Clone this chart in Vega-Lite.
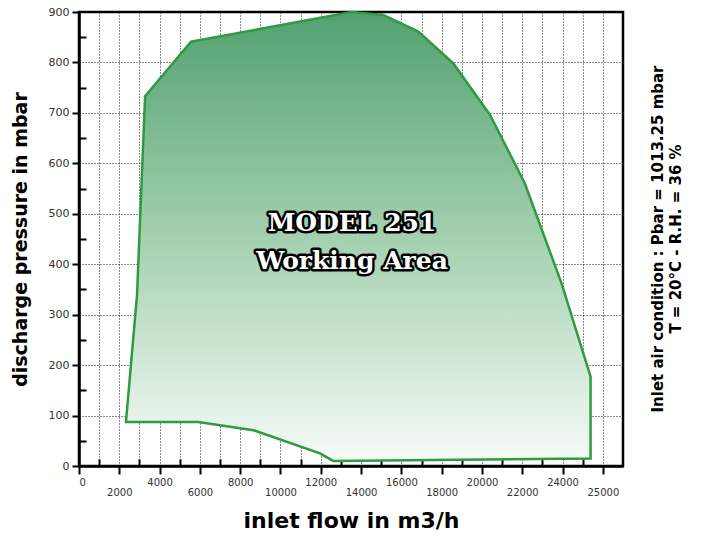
{
  "$schema": "https://vega.github.io/schema/vega-lite/v6.json",
  "width": 544,
  "height": 454,
  "autosize": {"type": "none"},
  "padding": {"left": 79, "top": 12, "right": 84, "bottom": 71},
  "background": "white",
  "config": {
    "view": {"stroke": "black", "strokeWidth": 2.5},
    "axis": {"labelFont": "DejaVu Sans", "labelColor": "#333", "titleFont": "DejaVu Sans", "titleColor": "black"}
  },
  "title": {
    "text": ["Inlet air condition : Pbar = 1013.25 mbar", "T = 20°C - R.H. = 36 %"],
    "orient": "right",
    "angle": 270,
    "anchor": "middle",
    "offset": -5,
    "font": "DejaVu Sans",
    "fontSize": 15,
    "fontWeight": "bold",
    "lineHeight": 18,
    "color": "black"
  },
  "datasets": {
    "area": [
      {"o": 1, "flow": 2330, "p": 87},
      {"o": 2, "flow": 2880, "p": 339},
      {"o": 3, "flow": 3280, "p": 733},
      {"o": 4, "flow": 5560, "p": 841},
      {"o": 5, "flow": 13530, "p": 900},
      {"o": 6, "flow": 15100, "p": 894},
      {"o": 7, "flow": 16840, "p": 861},
      {"o": 8, "flow": 18580, "p": 798},
      {"o": 9, "flow": 20400, "p": 696},
      {"o": 10, "flow": 22130, "p": 560},
      {"o": 11, "flow": 23950, "p": 362},
      {"o": 12, "flow": 25390, "p": 177},
      {"o": 13, "flow": 25390, "p": 15},
      {"o": 14, "flow": 12620, "p": 10},
      {"o": 15, "flow": 11960, "p": 25},
      {"o": 16, "flow": 8650, "p": 71},
      {"o": 17, "flow": 5920, "p": 87}
    ],
    "label": [
      {"flow": 13550, "p": 482, "text": "MODEL 251\nWorking Area"}
    ]
  },
  "layer": [
    {
      "data": {"name": "area"},
      "mark": {
        "type": "line",
        "interpolate": "linear-closed",
        "stroke": "#2f9a40",
        "strokeWidth": 2.5,
        "strokeJoin": "miter",
        "fill": {
          "gradient": "linear",
          "x1": 0, "y1": 0, "x2": 0, "y2": 1,
          "stops": [
            {"offset": 0, "color": "#52a170"},
            {"offset": 0.5, "color": "#a3d0af"},
            {"offset": 1, "color": "#f6fbf6"}
          ]
        }
      },
      "encoding": {
        "order": {"field": "o", "type": "quantitative"},
        "x": {
          "field": "flow", "type": "quantitative",
          "scale": {"domain": [0, 27000], "nice": false, "zero": false},
          "axis": {
            "orient": "bottom",
            "values": [0, 2000, 4000, 6000, 8000, 10000, 12000, 14000, 16000, 18000, 20000, 22000, 24000, 26000],
            "format": "d",
            "labelExpr": "datum.value % 4000 === 0 ? datum.label : ''",
            "labelFontSize": 10,
            "labelPadding": 3,
            "tickSize": 8,
            "tickWidth": 2,
            "tickColor": "black",
            "domain": true,
            "domainColor": "black",
            "domainWidth": 2.5,
            "grid": true,
            "gridColor": "black",
            "gridDash": [1, 2],
            "gridWidth": 1,
            "gridOpacity": 0.9,
            "title": "inlet flow in m3/h",
            "titleFontSize": 22,
            "titleFontWeight": "bold",
            "titlePadding": 23
          }
        },
        "y": {
          "field": "p", "type": "quantitative",
          "scale": {"domain": [0, 900], "nice": false, "zero": false},
          "axis": {
            "orient": "left",
            "values": [0, 100, 200, 300, 400, 500, 600, 700, 800, 900],
            "format": "d",
            "labelFontSize": 11,
            "labelPadding": 3,
            "tickSize": 7,
            "tickWidth": 2,
            "tickColor": "black",
            "domain": true,
            "domainColor": "black",
            "domainWidth": 2.5,
            "grid": true,
            "gridColor": "black",
            "gridDash": [1, 2],
            "gridWidth": 1,
            "gridOpacity": 0.9,
            "title": "discharge pressure in mbar",
            "titleFontSize": 19,
            "titleFontWeight": "bold",
            "titlePadding": 18
          }
        }
      }
    },
    {
      "data": {"name": "label"},
      "mark": {
        "type": "text",
        "font": "DejaVu Serif",
        "fontWeight": "bold",
        "fontSize": 25,
        "lineBreak": "\n",
        "lineHeight": 38,
        "align": "center",
        "baseline": "middle",
        "stroke": "black",
        "strokeWidth": 5,
        "strokeJoin": "round",
        "fill": "black"
      },
      "encoding": {
        "text": {"field": "text"},
        "x": {
          "field": "flow", "type": "quantitative",
          "axis": {
            "orient": "bottom",
            "values": [2000, 6000, 10000, 14000, 18000, 22000, 26000],
            "format": "d",
            "labelExpr": "datum.value === 26000 ? '25000' : datum.label",
            "labelFontSize": 10,
            "labelPadding": 21,
            "ticks": false,
            "domain": false,
            "grid": false,
            "title": null
          }
        },
        "y": {
          "field": "p", "type": "quantitative",
          "axis": {
            "orient": "left",
            "values": [50, 150, 250, 350, 450, 550, 650, 750, 850],
            "labels": false,
            "ticks": true,
            "tickSize": -7,
            "tickWidth": 2,
            "tickColor": "black",
            "domain": false,
            "grid": false,
            "title": null
          }
        }
      }
    },
    {
      "data": {"name": "label"},
      "mark": {
        "type": "text",
        "font": "DejaVu Serif",
        "fontWeight": "bold",
        "fontSize": 25,
        "lineBreak": "\n",
        "lineHeight": 38,
        "align": "center",
        "baseline": "middle",
        "fill": "white"
      },
      "encoding": {
        "text": {"field": "text"},
        "x": {
          "field": "flow", "type": "quantitative",
          "axis": {
            "orient": "bottom",
            "values": [1000, 3000, 5000, 7000, 9000, 11000, 13000, 15000, 17000, 19000, 21000, 23000, 25000],
            "labels": false,
            "ticks": true,
            "tickSize": -7,
            "tickWidth": 2,
            "tickColor": "black",
            "domain": false,
            "grid": true,
            "gridColor": "black",
            "gridDash": [1, 2],
            "gridWidth": 1,
            "gridOpacity": 0.9,
            "title": null
          }
        },
        "y": {"field": "p", "type": "quantitative", "axis": null}
      }
    }
  ],
  "resolve": {"axis": {"x": "independent", "y": "independent"}}
}
